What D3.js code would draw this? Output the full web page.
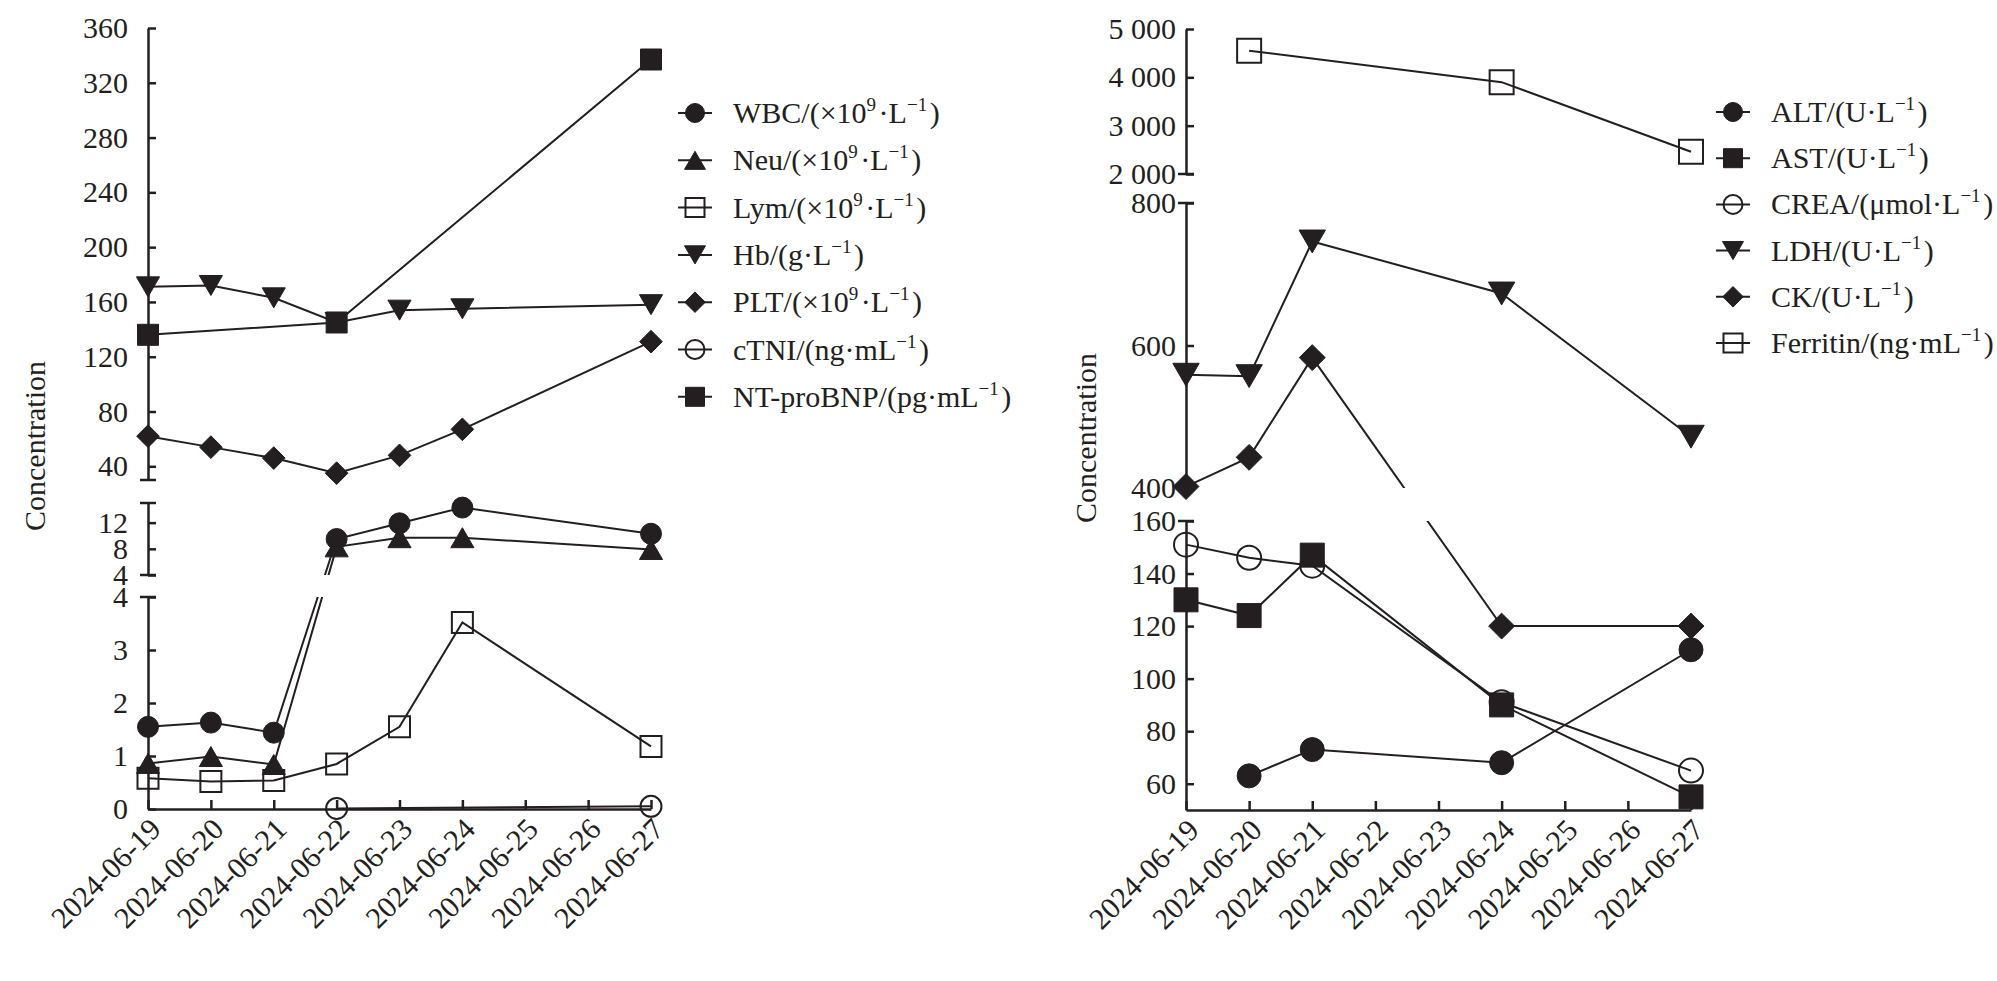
<!DOCTYPE html>
<html>
<head>
<meta charset="utf-8">
<script src="https://cdn.jsdelivr.net/npm/d3@7"></script>
<style>
  body { margin: 0; background: #fff; }
  svg text { font-family: "Liberation Serif", "DejaVu Serif", serif !important; fill: #231f20; }
</style>
</head>
<body>
<script>
// ---- data ----
const dates = ["2024-06-19", "2024-06-20", "2024-06-21", "2024-06-22", "2024-06-23",
               "2024-06-24", "2024-06-25", "2024-06-26", "2024-06-27"]

// left panel: blood count / cardiac markers
const bloodDays = ["2024-06-19", "2024-06-20", "2024-06-21", "2024-06-22", "2024-06-23", "2024-06-24", "2024-06-27"]
const wbc = [1.55, 1.63, 1.44, 9.5, 11.9, 14.3, 10.3]
const neu = [0.86, 0.99, 0.84, 8.3, 9.7, 9.7, 7.9]
const lym = [0.58, 0.52, 0.54, 0.85, 1.55, 3.52, 1.18]
const hb = [171, 172, 163, 145, 154, 155, 158]
const plt = [62, 54, 46, 35, 48, 67, 131]
const ctniDays = ["2024-06-22", "2024-06-27"]
const ctni = [0.01, 0.05]
const bnpDays = ["2024-06-19", "2024-06-22", "2024-06-27"]
const bnp = [136, 145, 337]

// right panel: biochemistry
const altDays = ["2024-06-20", "2024-06-21", "2024-06-24", "2024-06-27"]
const alt = [63, 73, 68, 111]
const chemDays = ["2024-06-19", "2024-06-20", "2024-06-21", "2024-06-24", "2024-06-27"]
const ast = [130, 124, 147, 90, 55]
const crea = [151, 146, 143, 91, 65]
const ldh = [559, 557, 746, 673, 472]
const ck = [402, 443, 583, 120, 120]
const ferritinDays = ["2024-06-20", "2024-06-24", "2024-06-27"]
const ferritin = [4550, 3900, 2460]

// axis tick values per broken segment
const leftTicksLow = [0, 1, 2, 3, 4]
const leftTicksMid = [4, 8, 12]
const leftTicksHigh = [40, 80, 120, 160, 200, 240, 280, 320, 360]
const rightTicksLow = [60, 80, 100, 120, 140, 160]
const rightTicksMid = [400, 600, 800]
const rightTicksHigh = [2000, 3000, 4000, 5000]

const leftLabels = ["WBC/(×10^{9}·L^{−1})", "Neu/(×10^{9}·L^{−1})", "Lym/(×10^{9}·L^{−1})",
  "Hb/(g·L^{−1})", "PLT/(×10^{9}·L^{−1})", "cTNI/(ng·mL^{−1})", "NT-proBNP/(pg·mL^{−1})"]
const rightLabels = ["ALT/(U·L^{−1})", "AST/(U·L^{−1})", "CREA/(μmol·L^{−1})",
  "LDH/(U·L^{−1})", "CK/(U·L^{−1})", "Ferritin/(ng·mL^{−1})"]

// ---- symbols (size = width squared, centred on bounding box) ----
const symCircle = { draw(c, s) { const r = Math.sqrt(s) / 2; c.moveTo(r, 0); c.arc(0, 0, r, 0, 2 * Math.PI) } }
const symSquare = { draw(c, s) { const r = Math.sqrt(s) / 2; c.rect(-r, -r, 2 * r, 2 * r) } }
const symDiamond = { draw(c, s) { const r = Math.sqrt(s) / 2 * 1.08; c.moveTo(0, -r); c.lineTo(r, 0); c.lineTo(0, r); c.lineTo(-r, 0); c.closePath() } }
const symTriUp = { draw(c, s) { const w = Math.sqrt(s) * 1.1, h = w * 0.866; c.moveTo(0, -h / 2); c.lineTo(w / 2, h / 2); c.lineTo(-w / 2, h / 2); c.closePath() } }
const symTriDown = { draw(c, s) { const w = Math.sqrt(s) * 1.1, h = w * 0.866; c.moveTo(0, h / 2); c.lineTo(w / 2, -h / 2); c.lineTo(-w / 2, -h / 2); c.closePath() } }

const ink = "#231f20"
const serif = "Liberation Serif, DejaVu Serif, serif"

const width = 1997
const height = 981

const svg = d3.select("body").append("svg")
  .attr("width", width)
  .attr("height", height)
  .attr("font-family", serif)

// text with ^{...} superscripts
function richText(sel, str) {
  const parts = str.split(/(\^\{[^}]*\})/)
  parts.forEach((p) => {
    if (!p) return
    if (p.startsWith("^{")) {
      sel.append("tspan").attr("dy", -12).attr("font-size", 19).text(p.slice(2, -1))
      sel.append("tspan").attr("dy", 12).text("\u200a")
    } else {
      sel.append("tspan").text(p)
    }
  })
}

function drawPanel(cfg) {
  const g = svg.append("g")
  const x = d3.scalePoint().domain(dates).range([cfg.x0, cfg.x1])

  // one piecewise scale over all segments, so lines run straight across the gaps
  const dom = [], rng = []
  cfg.segments.forEach((s) => { dom.push(s.lo, s.hi); rng.push(s.y0, s.y1) })
  const y = d3.scaleLinear().domain(dom).range(rng)

  const line = d3.line().x((d) => x(d.day)).y((d) => y(d.value))

  // lines
  g.append("g").selectAll("path")
    .data(cfg.series)
    .enter()
    .append("path")
    .attr("d", (s) => line(s.days.map((day, i) => ({ day, value: s.values[i] }))))
    .attr("fill", "none")
    .attr("stroke", ink)
    .attr("stroke-width", 2)

  // white-out the lines where the axis is broken
  for (let i = 0; i < cfg.segments.length - 1; i++) {
    const a = cfg.segments[i], b = cfg.segments[i + 1]
    g.append("rect")
      .attr("x", cfg.x0 + 2)
      .attr("y", b.y0)
      .attr("width", cfg.x1 - cfg.x0 + 30)
      .attr("height", a.y1 - b.y0)
      .attr("fill", "#fff")
  }

  // y axis segments
  cfg.segments.forEach((s) => {
    const sy = d3.scaleLinear().domain([s.lo, s.hi]).range([s.y0, s.y1])
    const ax = g.append("g")
      .attr("transform", `translate(${cfg.x0},0)`)
      .call(d3.axisLeft(sy).tickValues(s.ticks).tickSizeInner(-8).tickSizeOuter(0)
        .tickPadding(cfg.pad).tickFormat(cfg.fmt))
      .attr("font-family", serif)
      .attr("font-size", 30)
    ax.select(".domain").attr("stroke", ink).attr("stroke-width", 2.5)
    ax.selectAll(".tick line").attr("stroke", ink).attr("stroke-width", 2.5)
    ax.selectAll(".tick text").attr("fill", ink)
    ;[["lo", s.y0], ["hi", s.y1]].forEach(([k, yy]) => {
      if (s.breaks.includes(k)) {
        g.append("line")
          .attr("x1", cfg.x0 - 8).attr("x2", cfg.x0 + 8)
          .attr("y1", yy).attr("y2", yy)
          .attr("stroke", ink).attr("stroke-width", 2.5)
      }
    })
  })

  // x axis
  const yBase = cfg.segments[0].y0
  const xa = g.append("g")
    .attr("transform", `translate(0,${yBase})`)
    .call(d3.axisBottom(x).tickSizeInner(-9).tickSizeOuter(0))
    .attr("font-family", serif)
    .attr("font-size", 30)
  xa.select(".domain").attr("stroke", ink).attr("stroke-width", 2.5)
  xa.selectAll(".tick line").attr("stroke", ink).attr("stroke-width", 2.5)
  xa.selectAll(".tick text")
    .attr("x", 0).attr("y", 0).attr("dy", 0)
    .attr("transform", "translate(14,22) rotate(-45)")
    .attr("text-anchor", "end")
    .attr("fill", ink)

  // markers
  cfg.series.forEach((s) => {
    g.append("g").selectAll("path")
      .data(s.days.map((day, i) => ({ day, value: s.values[i] })))
      .enter()
      .append("path")
      .attr("transform", (d) => `translate(${x(d.day)},${y(d.value)})`)
      .attr("d", d3.symbol().type(s.sym).size(cfg.markSize * cfg.markSize))
      .attr("fill", s.open ? "none" : ink)
      .attr("stroke", ink)
      .attr("stroke-width", s.open ? 2 : 1)
  })

  // y title
  g.append("text")
    .attr("transform", `translate(${cfg.titleX},${cfg.titleY}) rotate(-90)`)
    .attr("text-anchor", "middle")
    .attr("font-size", 30)
    .text("Concentration")

  // legend
  const lg = g.append("g")
  cfg.series.forEach((s, i) => {
    const ly = cfg.legY + i * cfg.legStep
    lg.append("line")
      .attr("x1", cfg.legX - 17).attr("x2", cfg.legX + 17)
      .attr("y1", ly).attr("y2", ly)
      .attr("stroke", ink).attr("stroke-width", 2)
    lg.append("path")
      .attr("transform", `translate(${cfg.legX},${ly})`)
      .attr("d", d3.symbol().type(s.sym).size(19 * 19))
      .attr("fill", s.open ? "none" : ink)
      .attr("stroke", ink)
      .attr("stroke-width", s.open ? 2 : 1)
    const t = lg.append("text")
      .attr("x", cfg.legX + 38)
      .attr("y", ly + 10)
      .attr("font-size", 30)
    richText(t, s.label)
  })
}

drawPanel({
  x0: 148, x1: 651, pad: 20,
  fmt: (d) => d,
  segments: [
    { lo: 0, hi: 4, y0: 809, y1: 597, ticks: leftTicksLow, breaks: ["hi"] },
    { lo: 4, hi: 15, y0: 575, y1: 503, ticks: leftTicksMid, breaks: ["lo", "hi"] },
    { lo: 30, hi: 360, y0: 480, y1: 28, ticks: leftTicksHigh, breaks: ["lo"] },
  ],
  markSize: 21,
  series: [
    { label: leftLabels[0], days: bloodDays, values: wbc, sym: symCircle, open: false },
    { label: leftLabels[1], days: bloodDays, values: neu, sym: symTriUp, open: false },
    { label: leftLabels[2], days: bloodDays, values: lym, sym: symSquare, open: true },
    { label: leftLabels[3], days: bloodDays, values: hb, sym: symTriDown, open: false },
    { label: leftLabels[4], days: bloodDays, values: plt, sym: symDiamond, open: false },
    { label: leftLabels[5], days: ctniDays, values: ctni, sym: symCircle, open: true },
    { label: leftLabels[6], days: bnpDays, values: bnp, sym: symSquare, open: false },
  ],
  titleX: 45, titleY: 446,
  legX: 695, legY: 113, legStep: 47.3,
})

drawPanel({
  x0: 1186, x1: 1691, pad: 10,
  fmt: (d) => d3.format(",")(d).replace(/,/g, " "),
  segments: [
    { lo: 50, hi: 160, y0: 810, y1: 521, ticks: rightTicksLow, breaks: ["hi"] },
    { lo: 400, hi: 800, y0: 488, y1: 203, ticks: rightTicksMid, breaks: ["lo", "hi"] },
    { lo: 2000, hi: 5000, y0: 174, y1: 29, ticks: rightTicksHigh, breaks: ["lo"] },
  ],
  markSize: 24,
  series: [
    { label: rightLabels[0], days: altDays, values: alt, sym: symCircle, open: false },
    { label: rightLabels[1], days: chemDays, values: ast, sym: symSquare, open: false },
    { label: rightLabels[2], days: chemDays, values: crea, sym: symCircle, open: true },
    { label: rightLabels[3], days: chemDays, values: ldh, sym: symTriDown, open: false },
    { label: rightLabels[4], days: chemDays, values: ck, sym: symDiamond, open: false },
    { label: rightLabels[5], days: ferritinDays, values: ferritin, sym: symSquare, open: true },
  ],
  titleX: 1096, titleY: 438,
  legX: 1733, legY: 112, legStep: 46.2,
})
</script>
</body>
</html>
